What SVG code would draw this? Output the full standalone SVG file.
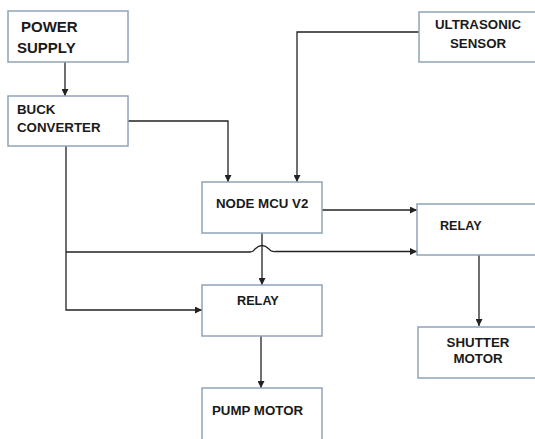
<svg xmlns="http://www.w3.org/2000/svg" width="535" height="439" viewBox="0 0 535 439">
<defs>
<style>
.box{fill:#ffffff;stroke:#8ea4b8;stroke-width:1.5}
.t{font-family:"Liberation Sans",Arial,sans-serif;font-weight:bold;fill:#1a1a1a;font-size:13.3px}
.c{fill:none;stroke:#222;stroke-width:1.3}
</style>
<marker id="ah" viewBox="0 0 10 10" refX="10" refY="5" markerWidth="7" markerHeight="7" markerUnits="userSpaceOnUse" orient="auto">
<path d="M0,0 L10,5 L0,10 z" fill="#222"/>
</marker>
</defs>
<rect width="535" height="439" fill="#ffffff"/>
<g id="connectors">
<path class="c" d="M65,62 V96" marker-end="url(#ah)"/>
<path class="c" d="M128,121 H228 V182" marker-end="url(#ah)"/>
<path class="c" d="M419,32 H297 V182" marker-end="url(#ah)"/>
<path class="c" d="M322,210 H417" marker-end="url(#ah)"/>
<path class="c" d="M262,233 V285" marker-end="url(#ah)"/>
<path class="c" d="M66,146 V310 H202" marker-end="url(#ah)"/>
<path class="c" d="M66,252 H250 Q253,252 255,249 Q262,242 269,249 Q271,252 276,251.5 H417" marker-end="url(#ah)"/>
<path class="c" d="M261,336 V388" marker-end="url(#ah)"/>
<path class="c" d="M479,255 V326" marker-end="url(#ah)"/>
</g>
<g id="power-supply">
<rect class="box" x="8" y="11" width="120" height="51"/>
<text class="t" x="21" y="32" style="font-size:15px">POWER</text>
<text class="t" x="17" y="53" style="font-size:15px">SUPPLY</text>
</g>
<g id="buck-converter">
<rect class="box" x="8" y="96" width="120" height="50"/>
<text class="t" x="17" y="114">BUCK</text>
<text class="t" x="17" y="132">CONVERTER</text>
</g>
<g id="ultrasonic-sensor">
<rect class="box" x="419" y="12" width="120" height="50"/>
<text class="t" x="478" y="29" text-anchor="middle">ULTRASONIC</text>
<text class="t" x="478" y="48" text-anchor="middle">SENSOR</text>
</g>
<g id="node-mcu">
<rect class="box" x="202" y="182" width="120" height="51"/>
<text class="t" x="216" y="208">NODE MCU V2</text>
</g>
<g id="relay-right">
<rect class="box" x="417" y="204" width="122" height="51"/>
<text class="t" x="440" y="230" style="font-size:12.6px">RELAY</text>
</g>
<g id="relay-bottom">
<rect class="box" x="202" y="285" width="120" height="51"/>
<text class="t" x="237" y="305" style="font-size:12.7px">RELAY</text>
</g>
<g id="shutter-motor">
<rect class="box" x="418" y="327" width="121" height="51"/>
<text class="t" x="478" y="347" text-anchor="middle">SHUTTER</text>
<text class="t" x="478" y="363" text-anchor="middle">MOTOR</text>
</g>
<g id="pump-motor">
<rect class="box" x="202" y="388" width="120" height="60"/>
<text class="t" x="212" y="415">PUMP MOTOR</text>
</g>
</svg>
